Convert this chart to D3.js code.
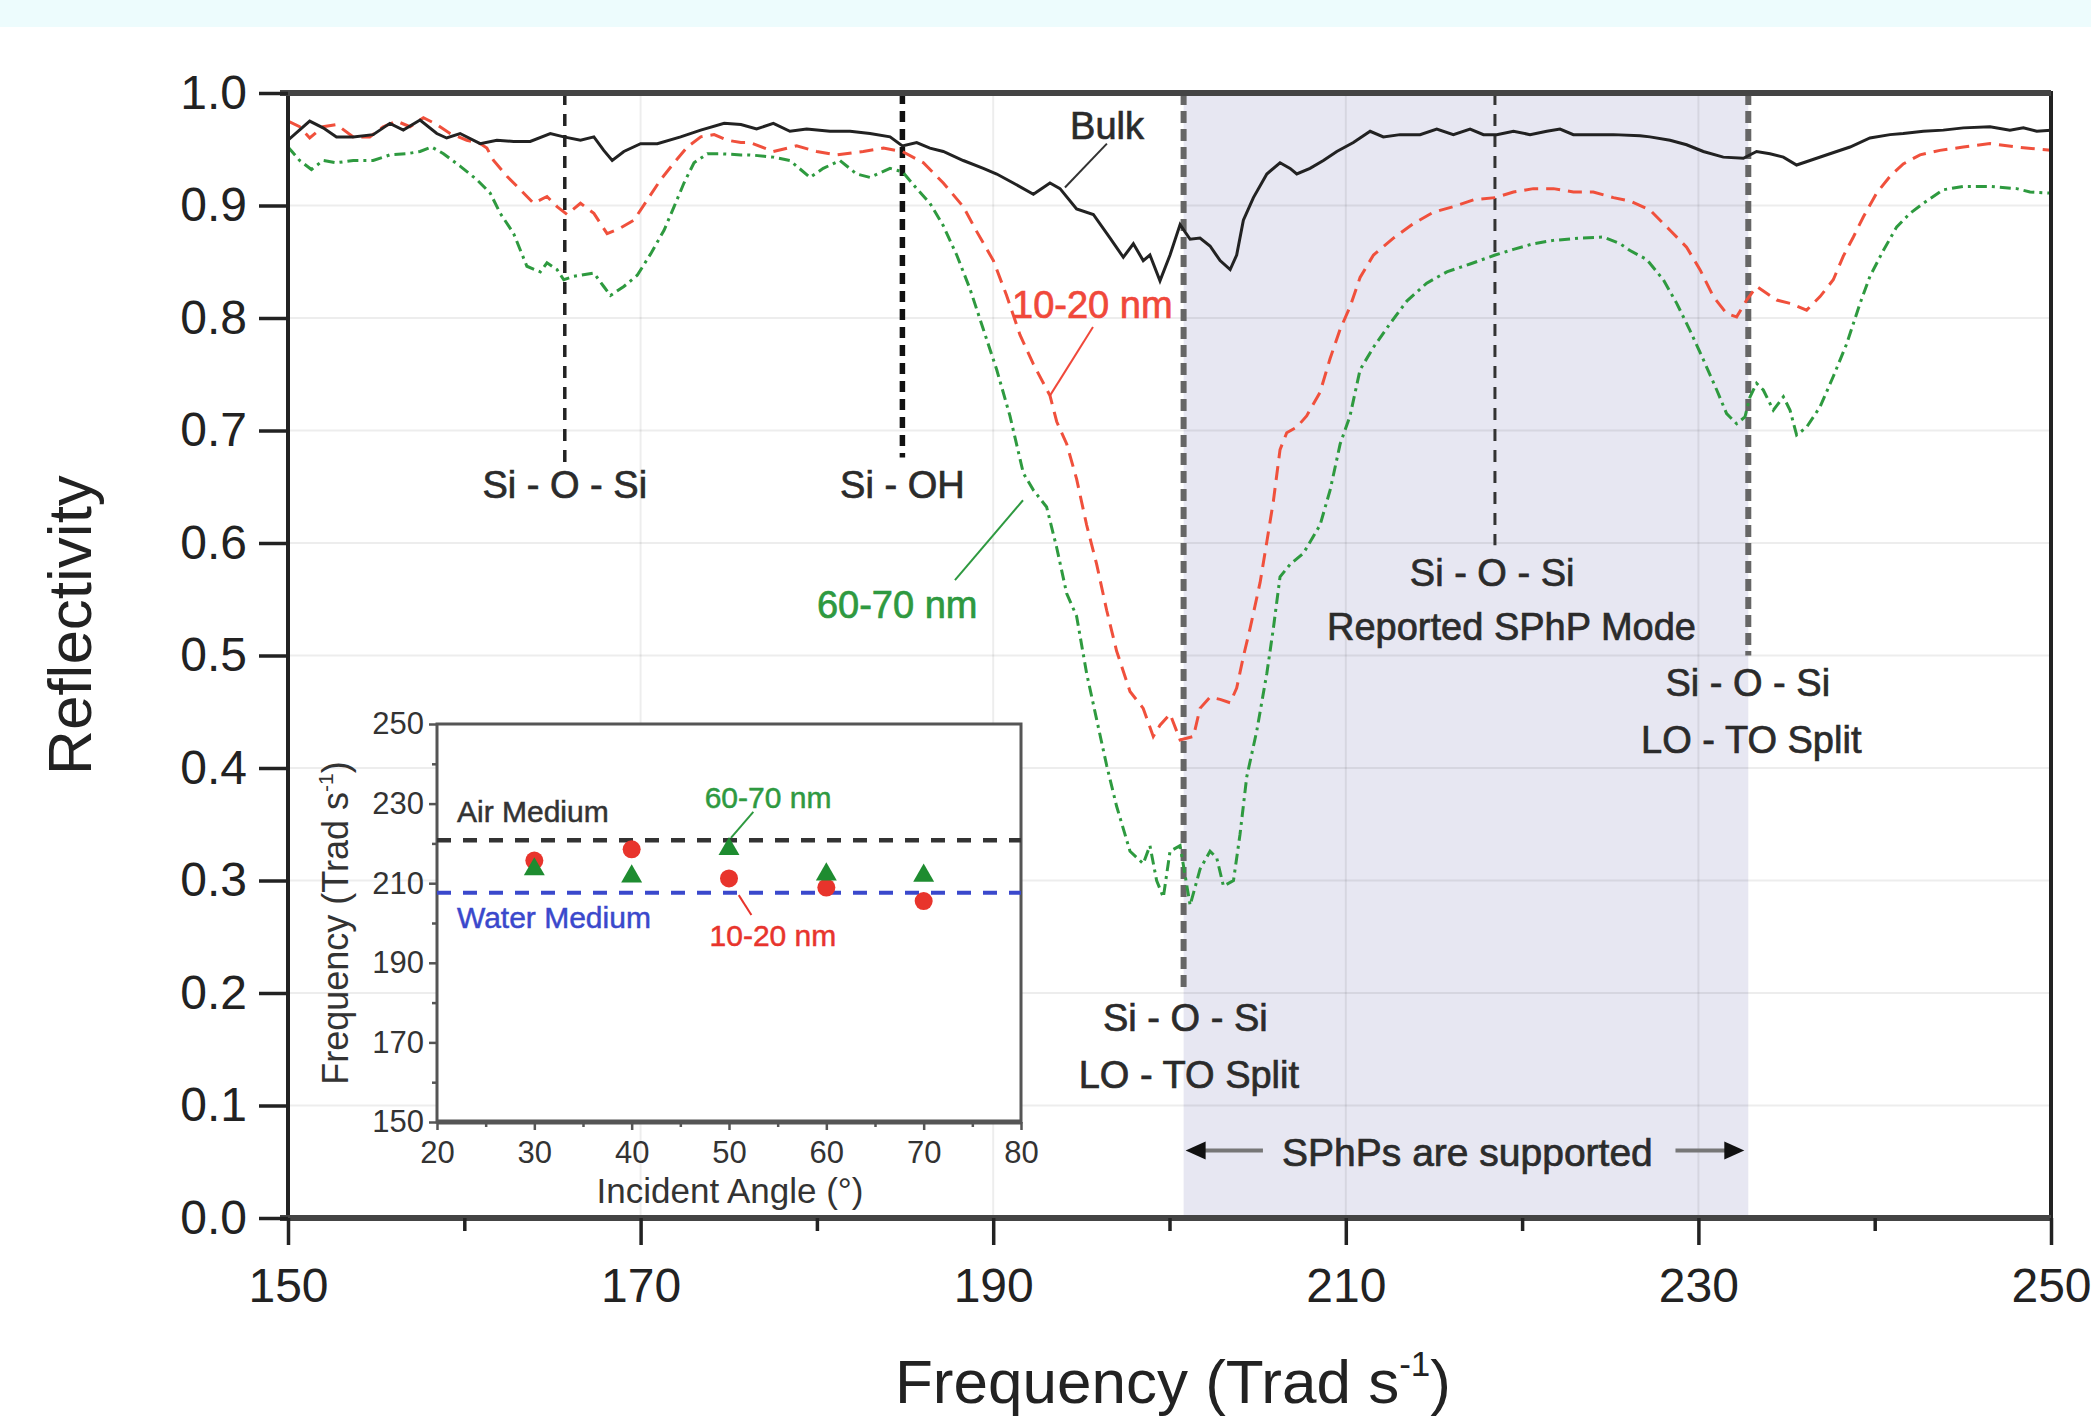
<!DOCTYPE html>
<html>
<head>
<meta charset="utf-8">
<script src="https://cdn.jsdelivr.net/npm/d3@7"></script>
<style>
  html, body { margin:0; padding:0; background:#fff; }
  svg { display:block; font-family: "Liberation Sans", Arial, Helvetica, sans-serif; }
</style>
</head>
<body>
<svg width="2091" height="1421"></svg>
<script>
// reflectivity spectra: [frequency (Trad/s), reflectivity]
var bulk = [[150.0,0.958],[151.23,0.975],[151.99,0.969],[152.75,0.961],[153.7,0.961],[154.83,0.963],[155.78,0.973],[156.54,0.967],[157.49,0.976],[158.44,0.964],[159.0,0.960],[159.76,0.964],[160.9,0.955],[161.85,0.958],[162.8,0.957],[163.74,0.957],[164.88,0.964],[165.64,0.961],[166.59,0.958],[167.35,0.961],[167.91,0.949],[168.39,0.940],[169.05,0.948],[170.0,0.955],[170.95,0.955],[172.27,0.961],[173.41,0.967],[174.74,0.973],[175.69,0.972],[176.58,0.968],[177.53,0.973],[178.47,0.966],[179.42,0.968],[180.74,0.966],[181.88,0.966],[183.01,0.964],[184.15,0.961],[184.85,0.953],[185.66,0.956],[186.41,0.951],[187.17,0.948],[188.3,0.940],[189.44,0.933],[190.2,0.928],[191.14,0.920],[192.28,0.910],[193.22,0.920],[193.79,0.915],[194.73,0.897],[195.68,0.892],[196.63,0.871],[197.38,0.854],[197.95,0.866],[198.51,0.851],[198.89,0.856],[199.46,0.833],[200.03,0.856],[200.6,0.883],[201.17,0.870],[201.73,0.871],[202.3,0.864],[202.87,0.851],[203.44,0.843],[203.81,0.856],[204.19,0.887],[204.76,0.907],[205.52,0.928],[206.27,0.938],[206.84,0.933],[207.22,0.928],[207.97,0.933],[208.73,0.940],[209.49,0.948],[210.43,0.956],[211.38,0.966],[212.13,0.961],[213.08,0.963],[214.21,0.963],[215.16,0.968],[216.1,0.963],[217.05,0.968],[217.81,0.963],[218.56,0.963],[219.51,0.966],[220.45,0.963],[221.4,0.966],[222.15,0.968],[222.91,0.963],[224.23,0.963],[225.18,0.963],[226.69,0.962],[227.25,0.961],[228.39,0.958],[229.33,0.954],[230.28,0.948],[231.41,0.943],[232.55,0.942],[233.3,0.948],[234.06,0.946],[234.82,0.943],[235.57,0.936],[236.33,0.940],[237.46,0.946],[238.6,0.952],[239.73,0.960],[240.87,0.963],[241.62,0.964],[242.76,0.966],[243.89,0.967],[245.03,0.969],[246.54,0.970],[247.67,0.967],[248.43,0.969],[249.19,0.966],[250.0,0.967]];

var film1020 = [[150.0,0.975],[150.66,0.970],[151.23,0.960],[151.99,0.970],[152.75,0.972],[153.7,0.961],[154.64,0.961],[155.4,0.970],[156.16,0.975],[156.92,0.970],[157.68,0.978],[158.44,0.972],[159.19,0.964],[160.14,0.958],[160.9,0.955],[161.28,0.951],[161.66,0.940],[162.42,0.926],[163.18,0.914],[163.93,0.902],[164.69,0.908],[165.26,0.899],[165.83,0.892],[166.59,0.902],[167.35,0.893],[168.1,0.875],[168.86,0.880],[169.62,0.887],[170.38,0.905],[171.14,0.923],[171.9,0.938],[172.65,0.952],[173.41,0.961],[174.17,0.963],[174.93,0.958],[175.69,0.956],[176.2,0.956],[177.53,0.948],[178.85,0.953],[179.99,0.948],[181.12,0.945],[182.63,0.948],[183.77,0.951],[184.85,0.948],[186.04,0.938],[187.17,0.920],[188.3,0.899],[189.06,0.877],[190.01,0.851],[190.76,0.820],[191.52,0.785],[192.28,0.759],[193.22,0.731],[193.6,0.708],[194.17,0.688],[194.73,0.657],[195.3,0.616],[195.87,0.581],[196.44,0.540],[197.0,0.504],[197.76,0.468],[198.51,0.453],[199.08,0.428],[199.46,0.438],[200.03,0.448],[200.6,0.425],[201.36,0.428],[201.73,0.453],[202.3,0.463],[202.87,0.461],[203.44,0.458],[203.81,0.471],[204.19,0.499],[204.57,0.524],[205.14,0.565],[205.52,0.601],[205.89,0.637],[206.27,0.683],[206.65,0.698],[207.22,0.703],[207.78,0.713],[208.54,0.734],[209.11,0.764],[209.68,0.790],[210.24,0.810],[210.81,0.836],[211.57,0.856],[212.7,0.871],[213.84,0.884],[214.97,0.894],[216.1,0.899],[217.24,0.905],[218.47,0.907],[219.51,0.912],[220.64,0.915],[221.78,0.915],[222.91,0.912],[224.04,0.912],[225.18,0.907],[226.12,0.904],[227.25,0.896],[228.39,0.878],[229.33,0.863],[230.09,0.843],[230.85,0.819],[231.6,0.804],[232.17,0.801],[232.74,0.816],[233.3,0.828],[233.87,0.822],[234.44,0.816],[235.2,0.813],[236.14,0.807],[236.9,0.819],[237.65,0.834],[238.22,0.855],[238.79,0.872],[239.36,0.890],[240.11,0.911],[240.87,0.926],[241.62,0.937],[242.57,0.945],[243.7,0.949],[245.03,0.952],[246.54,0.955],[248.05,0.952],[250.0,0.949]];

var film6070 = [[150.0,0.952],[150.66,0.940],[151.33,0.932],[151.99,0.940],[152.75,0.938],[153.7,0.940],[154.83,0.940],[155.78,0.945],[156.73,0.946],[157.49,0.948],[158.15,0.952],[158.82,0.946],[159.76,0.935],[160.71,0.923],[161.47,0.911],[162.04,0.893],[162.8,0.875],[163.55,0.846],[164.31,0.841],[164.69,0.849],[165.26,0.843],[165.64,0.834],[166.21,0.837],[167.35,0.840],[167.91,0.828],[168.29,0.820],[169.05,0.828],[169.81,0.838],[170.57,0.857],[171.33,0.878],[171.9,0.899],[172.46,0.920],[173.03,0.938],[173.79,0.946],[174.55,0.946],[175.69,0.945],[176.2,0.945],[177.53,0.943],[178.47,0.940],[179.61,0.925],[180.36,0.933],[181.31,0.940],[182.25,0.928],[183.01,0.925],[184.15,0.933],[184.85,0.930],[185.66,0.915],[186.41,0.902],[187.17,0.882],[187.93,0.856],[188.68,0.826],[189.44,0.790],[190.2,0.754],[190.95,0.713],[191.71,0.662],[192.28,0.647],[193.03,0.632],[193.6,0.596],[194.17,0.555],[194.73,0.535],[195.3,0.484],[195.87,0.443],[196.44,0.402],[197.0,0.366],[197.76,0.326],[198.51,0.315],[198.89,0.331],[199.27,0.300],[199.65,0.285],[200.03,0.326],[200.6,0.331],[201.17,0.278],[201.73,0.310],[202.3,0.326],[202.68,0.320],[203.06,0.295],[203.63,0.300],[204.0,0.341],[204.38,0.392],[204.95,0.433],[205.52,0.484],[205.89,0.524],[206.27,0.570],[206.84,0.581],[207.6,0.591],[208.54,0.616],[209.11,0.647],[209.68,0.688],[210.24,0.713],[210.81,0.754],[211.57,0.774],[212.51,0.795],[213.46,0.815],[214.59,0.831],[215.73,0.841],[217.05,0.848],[218.47,0.856],[219.51,0.861],[220.64,0.866],[221.78,0.869],[223.29,0.871],[224.61,0.872],[225.56,0.866],[226.12,0.860],[227.07,0.852],[228.01,0.834],[228.77,0.813],[229.52,0.789],[230.28,0.763],[231.04,0.736],[231.6,0.715],[232.17,0.706],[232.64,0.712],[232.93,0.730],[233.3,0.742],[233.68,0.736],[234.25,0.718],[234.82,0.730],[235.2,0.718],[235.57,0.696],[236.14,0.703],[236.9,0.721],[237.65,0.748],[238.41,0.777],[239.17,0.813],[239.73,0.837],[240.49,0.860],[241.25,0.881],[242.0,0.893],[242.76,0.902],[243.89,0.914],[245.03,0.917],[246.54,0.917],[248.05,0.915],[248.81,0.912],[250.0,0.911]];

// marker frequencies and the shaded SPhP band
var siOSi1 = 165.7, siOH = 184.85, loTo1 = 200.8, sphpMode = 218.46, loTo2 = 232.83;
var shadeRange = [200.8, 232.83];

// main axes ticks
var xMajor = [150,170,190,210,230,250];
var xMinor = [160,180,200,220,240];
var yTicks = [0,0.1,0.2,0.3,0.4,0.5,0.6,0.7,0.8,0.9,1.0];

// inset: resonance frequency vs incident angle
var angles = [30,40,50,60,70];
var freq1020 = [215.7,218.5,211.2,208.9,205.5];
var freq6070 = [213.5,211.7,218.6,212.2,211.9];
var airFreq = 220.8, waterFreq = 207.6;
var ixMajor = [20,30,40,50,60,70,80];
var ixMinor = [25,35,45,55,65,75];
var iyMajor = [150,170,190,210,230,250];
var iyMinor = [160,180,200,220,240];

var svg = d3.select("svg");
var W = 2091, H = 1421;

svg.append("rect").attr("x",0).attr("y",0).attr("width",W).attr("height",27).attr("fill","#edfcfd");

var x = d3.scaleLinear().domain([150,250]).range([288,2051]);
var y = d3.scaleLinear().domain([0,1]).range([1218,93]);

svg.append("defs").append("clipPath").attr("id","plotclip")
  .append("rect").attr("x",x(150)).attr("y",y(1)).attr("width",x(250)-x(150)).attr("height",y(0)-y(1));

// shaded band
svg.append("rect")
  .attr("x", x(shadeRange[0])).attr("y", y(1))
  .attr("width", x(shadeRange[1])-x(shadeRange[0])).attr("height", y(0)-y(1))
  .attr("fill","#e7e7f2");

// faint grid
var grid = svg.append("g").attr("stroke","#000").attr("stroke-opacity",0.07).attr("stroke-width",2);
yTicks.slice(1,10).forEach(function(t){
  grid.append("line").attr("x1",x(150)).attr("x2",x(250)).attr("y1",y(t)).attr("y2",y(t));
});
xMajor.slice(1,5).forEach(function(t){
  grid.append("line").attr("x1",x(t)).attr("x2",x(t)).attr("y1",y(0)).attr("y2",y(1));
});

// vertical marker lines
function vline(f, r0, color, w, dash){
  svg.append("line").attr("x1",x(f)).attr("x2",x(f)).attr("y1",y(1)).attr("y2",y(r0))
    .attr("stroke",color).attr("stroke-width",w).attr("stroke-dasharray",dash);
}
vline(siOSi1, 0.672, "#222", 3.5, "12,9");
vline(siOH, 0.676, "#111", 5.5, "11,7");
vline(loTo1, 0.205, "#666", 6, "12,6");
vline(sphpMode, 0.598, "#333", 3, "12,9");
vline(loTo2, 0.5, "#666", 6, "12,6");

// curves
var line = d3.line().x(function(d){return x(d[0]);}).y(function(d){return y(d[1]);});
var curves = svg.append("g").attr("clip-path","url(#plotclip)").attr("fill","none");
curves.append("path").datum(film6070).attr("d",line)
  .attr("stroke","#2e9a3f").attr("stroke-width",3).attr("stroke-dasharray","11,5,3,5");
curves.append("path").datum(film1020).attr("d",line)
  .attr("stroke","#f0503c").attr("stroke-width",3).attr("stroke-dasharray","14,8");
curves.append("path").datum(bulk).attr("d",line)
  .attr("stroke","#222").attr("stroke-width",3);

// frame
svg.append("rect").attr("x",x(150)).attr("y",y(1)).attr("width",x(250)-x(150)).attr("height",y(0)-y(1))
  .attr("fill","none").attr("stroke","#222").attr("stroke-width",4);
svg.append("line").attr("x1",x(150)-8).attr("x2",x(250)).attr("y1",y(1)).attr("y2",y(1))
  .attr("stroke","#444").attr("stroke-width",6);
svg.append("line").attr("x1",x(150)-8).attr("x2",x(250)).attr("y1",y(0)).attr("y2",y(0))
  .attr("stroke","#444").attr("stroke-width",6);

// axes
var gx = svg.append("g").attr("transform","translate(0,"+y(0)+")")
  .call(d3.axisBottom(x).tickValues(xMajor).tickSize(27).tickPadding(23).tickFormat(d3.format("d")));
var gxm = svg.append("g").attr("transform","translate(0,"+y(0)+")")
  .call(d3.axisBottom(x).tickValues(xMinor).tickSize(13).tickFormat(""));
var gy = svg.append("g").attr("transform","translate("+x(150)+",0)")
  .call(d3.axisLeft(y).tickValues(yTicks).tickSize(29).tickPadding(12).tickFormat(d3.format(".1f")));
[gx,gxm,gy].forEach(function(g){
  g.select(".domain").remove();
  g.selectAll(".tick line").attr("stroke","#222").attr("stroke-width",3.5);
  g.selectAll(".tick text").attr("fill","#222").style("font-size","48px")
    .style("font-family",'"Liberation Sans", Arial, Helvetica, sans-serif');
});

// axis titles
svg.append("text").attr("transform","translate(91,625) rotate(-90)").attr("text-anchor","middle")
  .attr("fill","#222").style("font-size","62px").text("Reflectivity");
var xt = svg.append("text").attr("x",1173).attr("y",1403).attr("text-anchor","middle")
  .attr("fill","#222").style("font-size","62px");
xt.append("tspan").text("Frequency (Trad s");
xt.append("tspan").attr("dy",-27).style("font-size","35px").text("-1");
xt.append("tspan").attr("dy",27).text(")");

// annotations
function note(f, r, txt, anchor, color, size){
  return svg.append("text").attr("x",x(f)).attr("y",y(r)).attr("text-anchor",anchor||"middle")
    .attr("fill",color||"#2b2b2b").attr("stroke",color||"#2b2b2b").attr("stroke-width",0.7)
    .style("font-size",(size||38)+"px").text(txt);
}
function leader(f1,r1,f2,r2,color){
  svg.append("line").attr("x1",x(f1)).attr("y1",y(r1)).attr("x2",x(f2)).attr("y2",y(r2))
    .attr("stroke",color).attr("stroke-width",2);
}
note(siOSi1, 0.64, "Si - O - Si");
note(siOH, 0.64, "Si - OH");
note(194.36, 0.959, "Bulk", "start");
leader(196.45,0.955,194.07,0.916,"#333");
note(191.07, 0.80, "10-20 nm", "start", "#f0483a");
leader(195.66,0.792,193.22,0.731,"#f0483a");
note(180.0, 0.533, "60-70 nm", "start", "#2e9940");
leader(187.83,0.567,191.69,0.638,"#2e9940");
note(218.3, 0.562, "Si - O - Si");
note(219.4, 0.514, "Reported SPhP Mode");
note(232.8, 0.464, "Si - O - Si");
note(233.0, 0.413, "LO - TO Split");
note(200.9, 0.166, "Si - O - Si");
note(201.1, 0.116, "LO - TO Split");
note(216.9, 0.046, "SPhPs are supported", "middle", "#2b2b2b", 39);

// arrows for the supported band
var ay = y(0.06);
svg.append("line").attr("x1",x(201.7)).attr("x2",x(205.3)).attr("y1",ay).attr("y2",ay)
  .attr("stroke","#777").attr("stroke-width",4);
svg.append("line").attr("x1",x(228.7)).attr("x2",x(231.6)).attr("y1",ay).attr("y2",ay)
  .attr("stroke","#777").attr("stroke-width",4);
var lt = x(shadeRange[0])+2, rt = x(shadeRange[1])-4;
svg.append("path").attr("d","M"+lt+","+ay+"L"+(lt+20)+","+(ay-9)+"L"+(lt+20)+","+(ay+9)+"Z").attr("fill","#111");
svg.append("path").attr("d","M"+rt+","+ay+"L"+(rt-20)+","+(ay-9)+"L"+(rt-20)+","+(ay+9)+"Z").attr("fill","#111");

// ---------- inset ----------
var ix = d3.scaleLinear().domain([20,80]).range([437,1021]);
var iy = d3.scaleLinear().domain([150,250]).range([1122,724]);

svg.append("rect").attr("x",ix(20)).attr("y",iy(250)).attr("width",ix(80)-ix(20)).attr("height",iy(150)-iy(250))
  .attr("fill","#fff").attr("stroke","#555").attr("stroke-width",3);
svg.append("line").attr("x1",ix(20)).attr("x2",ix(80)).attr("y1",iy(150)).attr("y2",iy(150))
  .attr("stroke","#555").attr("stroke-width",5);

var igx = svg.append("g").attr("transform","translate(0,"+iy(150)+")")
  .call(d3.axisBottom(ix).tickValues(ixMajor).tickSize(8).tickPadding(11).tickFormat(d3.format("d")));
var igxm = svg.append("g").attr("transform","translate(0,"+iy(150)+")")
  .call(d3.axisBottom(ix).tickValues(ixMinor).tickSize(5).tickFormat(""));
var igy = svg.append("g").attr("transform","translate("+ix(20)+",0)")
  .call(d3.axisLeft(iy).tickValues(iyMajor).tickSize(8).tickPadding(5).tickFormat(d3.format("d")));
var igym = svg.append("g").attr("transform","translate("+ix(20)+",0)")
  .call(d3.axisLeft(iy).tickValues(iyMinor).tickSize(5).tickFormat(""));
[igx,igxm,igy,igym].forEach(function(g){
  g.select(".domain").remove();
  g.selectAll(".tick line").attr("stroke","#555").attr("stroke-width",2.5);
  g.selectAll(".tick text").attr("fill","#333").style("font-size","31px")
    .style("font-family",'"Liberation Sans", Arial, Helvetica, sans-serif');
});

svg.append("text").attr("x",730).attr("y",1203).attr("text-anchor","middle")
  .attr("fill","#333").style("font-size","35px").text("Incident Angle (°)");
var iyt = svg.append("text").attr("transform","translate(348,923) rotate(-90)").attr("text-anchor","middle")
  .attr("fill","#333").style("font-size","36px");
iyt.append("tspan").text("Frequency (Trad s");
iyt.append("tspan").attr("dy",-15).style("font-size","21px").text("-1");
iyt.append("tspan").attr("dy",15).text(")");

// medium reference lines
svg.append("line").attr("x1",ix(20)).attr("x2",ix(80)).attr("y1",iy(airFreq)).attr("y2",iy(airFreq))
  .attr("stroke","#333").attr("stroke-width",4.5).attr("stroke-dasharray","14,12");
svg.append("line").attr("x1",ix(20)).attr("x2",ix(80)).attr("y1",iy(waterFreq)).attr("y2",iy(waterFreq))
  .attr("stroke","#3a48cc").attr("stroke-width",4).attr("stroke-dasharray","14,12");

// points
svg.selectAll("circle.p1020").data(angles).enter().append("circle").attr("class","p1020")
  .attr("cx",function(d){return ix(d);}).attr("cy",function(d,i){return iy(freq1020[i]);})
  .attr("r",9).attr("fill","#e8342c");
var tri = d3.symbol().type(d3.symbolTriangle).size(190);
svg.selectAll("path.p6070").data(angles).enter().append("path").attr("class","p6070")
  .attr("d",tri).attr("transform",function(d,i){return "translate("+ix(d)+","+iy(freq6070[i])+")";})
  .attr("fill","#1e8c30");

// inset labels
function inote(a, f, txt, color){
  svg.append("text").attr("x",ix(a)).attr("y",iy(f)).attr("fill",color)
    .attr("stroke",color).attr("stroke-width",0.5).style("font-size","30px").text(txt);
}
function ileader(a1,f1,a2,f2,color){
  svg.append("line").attr("x1",ix(a1)).attr("y1",iy(f1)).attr("x2",ix(a2)).attr("y2",iy(f2))
    .attr("stroke",color).attr("stroke-width",2);
}
inote(22.05, 225.4, "Air Medium", "#333");
inote(22.05, 198.7, "Water Medium", "#3a48cc");
inote(47.5, 228.9, "60-70 nm", "#2e9940");
ileader(52.5,227.9,50.2,221.4,"#2e9940");
inote(48.0, 194.2, "10-20 nm", "#e8342c");
ileader(51.0,207.0,52.3,202.0,"#e8342c");
</script>
</body>
</html>
